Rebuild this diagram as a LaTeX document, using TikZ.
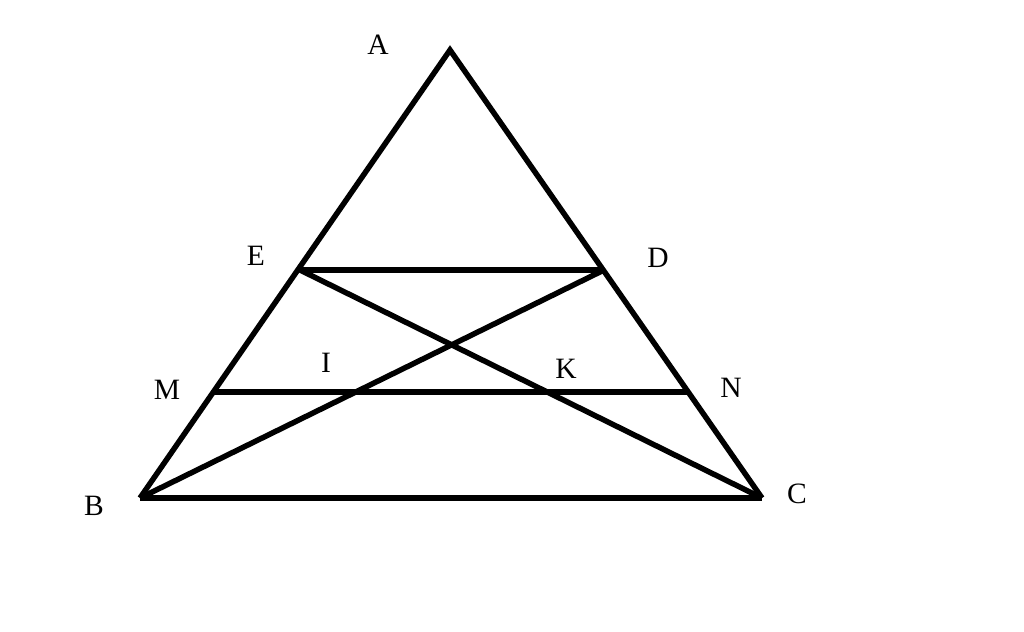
\documentclass[tikz,border=0pt]{standalone}
\usepackage{fontspec}
\setmainfont{Liberation Serif}
\begin{document}
\begin{tikzpicture}[x=0.025cm,y=-0.025cm,line width=3.9pt,line join=round,
		lbl/.style={font=\fontsize{21}{25}\selectfont}]
		\useasboundingbox (0,0) rectangle (1024,631);
		\coordinate (A) at (450,50);
		\coordinate (B) at (140,498);
		\coordinate (C) at (762,498);
		\coordinate (E) at (300,270);
		\coordinate (D) at (604,270);
		\coordinate (M) at (215,392);
		\coordinate (N) at (688,392);
		
		\draw[line join=miter] (B) -- (A) -- (C);
		\draw (B) -- (C);
		\draw (E) -- (D);
		\draw (M) -- (N);
		\draw (B) -- (D);
		\draw (E) -- (C);
		
		\node [lbl] (lA) at (378,45) {A};
		\node [lbl] (lB) at (94,506) {B};
		\node [lbl] (lC) at (797,494) {C};
		\node [lbl] (lD) at (658,258) {D};
		\node [lbl] (lE) at (256,256) {E};
		\node [lbl] (lM) at (167,390) {M};
		\node [lbl] (lN) at (731,388) {N};
		\node [lbl] (lI) at (326,363) {I};
		\node [lbl] (lK) at (566,369) {K};
	\end{tikzpicture}
\end{document}
